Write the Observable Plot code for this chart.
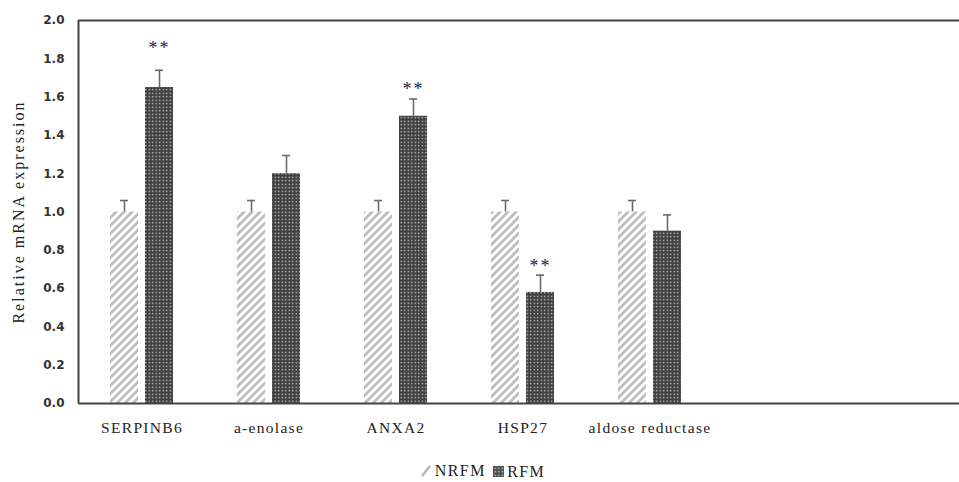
<!DOCTYPE html>
<html>
<head>
<meta charset="utf-8">
<script src="https://cdn.jsdelivr.net/npm/d3@7"></script>
<script src="https://cdn.jsdelivr.net/npm/@observablehq/plot@0.6"></script>
<style>
  html, body { margin: 0; padding: 0; background: #fff; }
  #wrap { position: relative; width: 959px; height: 482px; overflow: hidden; }
  #legend { position: absolute; left: 0; top: 462px; width: 959px; text-align: center; padding-left: 6px; box-sizing: border-box;
    font-family: "Liberation Serif", serif; font-size: 16px; color: #222; letter-spacing: 1.4px; }
  #legend span { display: inline-flex; align-items: center; margin: 0 1px; }
  #legend svg { margin-right: 3px; }
</style>
</head>
<body>
<div id="wrap"></div>
<script>
const genes = ["SERPINB6", "a-enolase", "ANXA2", "HSP27", "aldose reductase"];
const blankSlots = [" ", "  "];
const nrfmValues = [1.0, 1.0, 1.0, 1.0, 1.0];
const nrfmErrors = [0.06, 0.06, 0.06, 0.06, 0.06];
const rfmValues = [1.65, 1.2, 1.5, 0.58, 0.9];
const rfmErrors = [0.09, 0.095, 0.09, 0.09, 0.085];
const significance = ["**", "", "**", "**", ""];
const significanceY = [1.87, null, 1.655, 0.73, null];
const yTicks = [0, 0.2, 0.4, 0.6, 0.8, 1.0, 1.2, 1.4, 1.6, 1.8, 2.0];
const seriesNames = ["NRFM", "RFM"];

const nrfm = genes.map((g, i) => ({gene: g, value: nrfmValues[i], err: nrfmErrors[i]}));
const rfm = genes.map((g, i) => ({gene: g, value: rfmValues[i], err: rfmErrors[i]}));
const sig = genes.map((g, i) => ({gene: g, s: significance[i], y: significanceY[i]})).filter(d => d.s);

const serif = "'Liberation Serif', 'Times New Roman', serif";
const errStyle = {stroke: "#6a6a6a", strokeWidth: 1.6};

const plot = Plot.plot({
  width: 959,
  height: 450,
  marginTop: 20,
  marginLeft: 78,
  marginRight: 0,
  marginBottom: 47,
  style: {background: "#fff", color: "#333"},
  x: {domain: [...genes, ...blankSlots], range: [78, 967], padding: 0},
  y: {domain: [0, 2]},
  marks: [
    Plot.barY(nrfm, {x: "gene", y: "value", fill: "url(#hatch)", insetLeft: 32, insetRight: 67}),
    Plot.barY(rfm, {x: "gene", y: "value", fill: "url(#dots)", insetLeft: 67, insetRight: 32}),
    Plot.ruleX(nrfm, {x: "gene", y1: "value", y2: d => d.value + d.err, dx: -17.5, ...errStyle}),
    Plot.ruleX(rfm, {x: "gene", y1: "value", y2: d => d.value + d.err, dx: 17.5, ...errStyle}),
    Plot.tickY(nrfm, {x: "gene", y: d => d.value + d.err, insetLeft: 42, insetRight: 77, ...errStyle}),
    Plot.tickY(rfm, {x: "gene", y: d => d.value + d.err, insetLeft: 77, insetRight: 42, ...errStyle}),
    Plot.text(sig, {x: "gene", y: "y", text: "s", dx: 17.5, dy: 3, fontFamily: serif, fontSize: 18, fill: "#1c2440"}),
    Plot.ruleY([0, 2], {stroke: "#444", strokeWidth: 2}),
    Plot.ruleX([genes[0]], {x: d => d, y1: 0, y2: 2, dx: -63.5, stroke: "#444", strokeWidth: 2}),
    Plot.axisY({ticks: yTicks, tickSize: 0, tickPadding: 14, tickFormat: d => d.toFixed(1), label: null,
      fontFamily: "'DejaVu Sans', sans-serif", fontWeight: "bold", fontSize: 12, fill: "#333"}),
    Plot.axisX({tickSize: 0, tickPadding: 18, label: null, fontFamily: serif, fontSize: 15.5, fill: "#222"}),
    Plot.text(["Relative mRNA expression"], {frameAnchor: "left", textAnchor: "middle", dx: -60, rotate: -90,
      fontFamily: serif, fontSize: 16, fill: "#222"})
  ]
});

plot.insertAdjacentHTML("afterbegin", `
<defs>
  <pattern id="hatch" patternUnits="userSpaceOnUse" width="8" height="8">
    <rect width="8" height="8" fill="#fff"/>
    <path d="M-2,2 L2,-2 M0,8 L8,0 M6,10 L10,6" stroke="#bdbdbd" stroke-width="2.8"/>
  </pattern>
  <pattern id="dots" patternUnits="userSpaceOnUse" width="3.5" height="3.5">
    <rect width="3.5" height="3.5" fill="#404040"/>
    <rect x="1.6" y="1.6" width="1.3" height="1.3" fill="#d8d8d8"/>
  </pattern>
</defs>`);
plot.querySelectorAll("[aria-label='x-axis tick label'] text").forEach(t => t.setAttribute("letter-spacing", "1.3"));
plot.querySelectorAll("[aria-label='text'] text").forEach(t => t.setAttribute("letter-spacing", "2"));

const wrap = document.getElementById("wrap");
wrap.appendChild(plot);

const legend = document.createElement("div");
legend.id = "legend";
legend.innerHTML = `
<span><svg width="12" height="12"><path d="M2,11 L10,1" stroke="#b5b5b5" stroke-width="2.5"/></svg>${seriesNames[0]}</span>
<span><svg width="11" height="11"><rect width="11" height="11" fill="url(#dotsL)"/>
<defs><pattern id="dotsL" patternUnits="userSpaceOnUse" width="3.5" height="3.5">
<rect width="3.5" height="3.5" fill="#505050"/><rect x="1.6" y="1.6" width="1.3" height="1.3" fill="#e0e0e0"/></pattern></defs></svg>${seriesNames[1]}</span>`;
wrap.appendChild(legend);
</script>
</body>
</html>
